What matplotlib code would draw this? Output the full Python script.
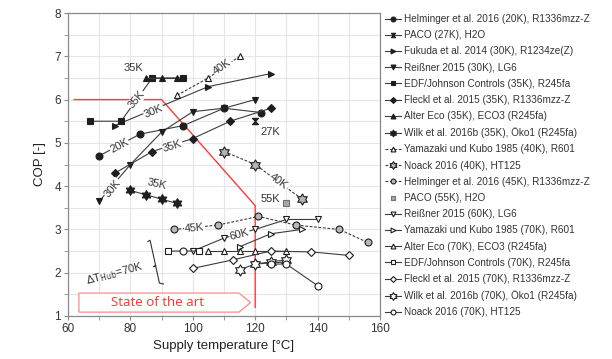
import numpy as np
import matplotlib
matplotlib.use('Agg')
import matplotlib.pyplot as plt
from matplotlib.path import Path
from matplotlib.patches import Polygon
from matplotlib.ticker import MultipleLocator

plt.rcParams['font.family'] = ['Liberation Sans', 'DejaVu Sans']

nan = np.nan
# ---------------- data ----------------
helm20_x = [70, 83, 97, 110, 122];           helm20_y = [4.7, 5.2, 5.4, 5.8, 5.7]
paco27_x = [120];                             paco27_y = [5.5]
fuku30_x = [75, 105, 125];                    fuku30_y = [5.4, 6.3, 6.6]
reis30_x = [70, 80, 90, 100, 110, 120];       reis30_y = [3.65, 4.5, 5.25, 5.72, 5.8, 6.0]
edf35_x = [67, 77, 87, 97];                   edf35_y = [5.5, 5.5, 6.5, 6.5]
fleckl35_x = [75, 87, 100, 112, 125];         fleckl35_y = [4.3, 4.8, 5.1, 5.5, 5.8]
alter35_x = [85, 90, 95];                     alter35_y = [6.5, 6.5, 6.5]
wilk35_x = [80, 85, 90, 95];                  wilk35_y = [3.9, 3.8, 3.7, 3.6]
yama40_x = [95, 105, 115];                    yama40_y = [6.1, 6.5, 7.0]
noack40_x = [110, 120, 135];                  noack40_y = [4.8, 4.5, 3.7]
helm45_x = [94, 108, 121, 133, 147, 156];     helm45_y = [3.0, 3.1, 3.3, 3.1, 3.0, 2.7]
paco55_x = [130];                             paco55_y = [3.6]
reis60_x = [100, 110, 120, 130, 140];         reis60_y = [2.5, 2.8, 3.0, 3.23, 3.23]
yama70_x = [115, 125, 135];                   yama70_y = [2.6, 2.9, 3.0]
alter70_x = [105, 110, 115, 120, 130];        alter70_y = [2.5, 2.5, 2.5, 2.5, 2.5]
edf70_x = [92, 102, nan, 120, 130];           edf70_y = [2.5, 2.5, nan, 2.2, 2.25]
fleckl70_x = [100, 113, 125, 138, 150];       fleckl70_y = [2.1, 2.3, 2.5, 2.48, 2.4]
wilk70_x = [115, 120, 125, 130];              wilk70_y = [2.07, 2.2, 2.25, 2.3]
noack70_x = [97, nan, 125, 130, 140];         noack70_y = [2.5, nan, 2.2, 2.2, 1.7]

state_x = [62, 90, 120, 120]
state_y = [6.0, 6.0, 3.55, 1.2]

labels = [
    ('35K', 81, 6.72, 0), ('35K', 82, 6.0, 50), ('30K', 87.5, 5.72, 23),
    ('20K', 76.5, 4.93, 28), ('35K', 93.5, 4.93, 17), ('30K', 74.3, 3.95, 50),
    ('35K', 88.5, 4.05, -12), ('27K', 124.8, 5.25, 0), ('40K', 109.5, 6.76, 35),
    ('40K', 127.5, 4.1, -36), ('55K', 124.8, 3.7, 0), ('45K', 100.5, 3.03, 5),
    ('60K', 115.0, 2.89, 15),
]

# --------------- markers ---------------
_ang = np.deg2rad(np.arange(12) * 30 + 90)
_rad = np.where(np.arange(12) % 2 == 0, 1.0, 1 / np.sqrt(3))
_verts = list(zip(_rad * np.cos(_ang), _rad * np.sin(_ang)))
hexagram = Path(_verts + [_verts[0]], [Path.MOVETO] + [Path.LINETO] * 11 + [Path.CLOSEPOLY])
hourglass = Path([(-1, 1), (1, 1), (-1, -1), (1, -1), (-1, 1)],
                 [Path.MOVETO, Path.LINETO, Path.LINETO, Path.LINETO, Path.CLOSEPOLY])

dk = '#1e1e1e'
ln = '#3c3c3c'
series = [
    (helm20_x, helm20_y, 'Helminger et al. 2016 (20K), R1336mzz-Z', dict(marker='o', mfc=dk, ls='-')),
    (paco27_x, paco27_y, 'PACO (27K), H2O', dict(marker=hourglass, mfc=dk, ls='-', ms=4.5)),
    (fuku30_x, fuku30_y, 'Fukuda et al. 2014 (30K), R1234ze(Z)', dict(marker='>', mfc=dk, ls='-')),
    (reis30_x, reis30_y, 'Reißner 2015 (30K), LG6', dict(marker='v', mfc=dk, ls='-')),
    (edf35_x, edf35_y, 'EDF/Johnson Controls (35K), R245fa', dict(marker='s', mfc=dk, ls='-')),
    (fleckl35_x, fleckl35_y, 'Fleckl et al. 2015 (35K), R1336mzz-Z', dict(marker='D', mfc=dk, ls='-', ms=4.3)),
    (alter35_x, alter35_y, 'Alter Eco (35K), ECO3 (R245fa)', dict(marker='^', mfc=dk, ls='-')),
    (wilk35_x, wilk35_y, 'Wilk et al. 2016b (35K), Öko1 (R245fa)', dict(marker=hexagram, mfc=dk, ls='-', ms=7)),
    (yama40_x, yama40_y, 'Yamazaki und Kubo 1985 (40K), R601', dict(marker='^', mfc='white', ls=(0, (2.5, 1.5)))),
    (noack40_x, noack40_y, 'Noack 2016 (40K), HT125', dict(marker=hexagram, mfc='#b4b4b4', ls=(0, (2.5, 1.5)), ms=8)),
    (helm45_x, helm45_y, 'Helminger et al. 2016 (45K), R1336mzz-Z', dict(marker='o', mfc='#b8b8b8', ls=(0, (2.5, 1.5)))),
    (paco55_x, paco55_y, 'PACO (55K), H2O', dict(marker='s', mfc='#a8a8a8', ls='none', mec='#707070')),
    (reis60_x, reis60_y, 'Reißner 2015 (60K), LG6', dict(marker='v', mfc='white', ls='-')),
    (yama70_x, yama70_y, 'Yamazaki und Kubo 1985 (70K), R601', dict(marker='>', mfc='white', ls='-')),
    (alter70_x, alter70_y, 'Alter Eco (70K), ECO3 (R245fa)', dict(marker='^', mfc='white', ls='-')),
    (edf70_x, edf70_y, 'EDF/Johnson Controls (70K), R245fa', dict(marker='s', mfc='white', ls='-')),
    (fleckl70_x, fleckl70_y, 'Fleckl et al. 2015 (70K), R1336mzz-Z', dict(marker='D', mfc='white', ls='-', ms=4.3)),
    (wilk70_x, wilk70_y, 'Wilk et al. 2016b (70K), Öko1 (R245fa)', dict(marker=hexagram, mfc='white', ls='-', ms=8)),
    (noack70_x, noack70_y, 'Noack 2016 (70K), HT125', dict(marker='o', mfc='white', ls='-')),
]

fig = plt.figure(figsize=(6.12, 3.59), dpi=100)
ax = fig.add_axes([68 / 612, 43 / 359, 312 / 612, 303 / 359])

ax.set_xlim(60, 160)
ax.set_ylim(1, 8)
ax.xaxis.set_major_locator(MultipleLocator(20))
ax.xaxis.set_minor_locator(MultipleLocator(10))
ax.yaxis.set_major_locator(MultipleLocator(1))
ax.yaxis.set_minor_locator(MultipleLocator(0.5))
ax.grid(True, which='both', color='#e6e6e6', lw=0.8, zorder=0)
ax.set_axisbelow(True)
for s in ax.spines.values():
    s.set_color('#8a8a8a')
    s.set_linewidth(0.9)
ax.tick_params(which='both', direction='out', length=3, color='#8a8a8a', labelsize=8.5,
               labelcolor='#333333', pad=2)

# red state-of-the-art line
ax.plot(state_x, state_y, color='#ff3a3a', lw=1.0, zorder=2)

handles = []
for x, y, lab, st in series:
    kw = dict(color=ln, lw=0.8, mec=dk, mew=0.8, ms=5, zorder=3)
    kw.update(st)
    h, = ax.plot(x, y, label=lab, **kw)
    handles.append(h)

for t, x, y, r in labels:
    ax.text(x, y, t, rotation=r, ha='center', va='center', fontsize=8, color='#333333',
            rotation_mode='anchor', zorder=4,
            bbox=dict(fc='white', ec='none', pad=0.4))

# Delta T bracket and label
brace_x = [85.6, 86.3, 88.1, 87.4, 88.1, 89.3, 90.6]
brace_y = [2.72, 2.75, 2.16, 2.14, 2.16, 1.76, 1.74]
ax.plot(brace_x, brace_y, color='#333333', lw=0.8, zorder=3)
ax.text(74.8, 1.97, r'$\Delta$T$_{\mathrm{Hub}}$=70K', rotation=15, ha='center', va='center',
        fontsize=8, color='#333333', rotation_mode='anchor')

# State of the art arrow box
box_x = [63.5, 63.5, 114.8, 118.5, 114.8]
box_y = [1.09, 1.53, 1.53, 1.31, 1.09]
ax.add_patch(Polygon(list(zip(box_x, box_y)), closed=True, fc='white', ec='#ff8a8a', lw=0.9, zorder=2))
ax.text(88.8, 1.31, 'State of the art', ha='center', va='center', fontsize=9.5, color='#ff3030',
        family=['Open Sans', 'DejaVu Sans'], zorder=3)

ax.set_xlabel('Supply temperature [°C]', fontsize=9.5, color='#222222', labelpad=4)
ax.set_ylabel('COP [-]', fontsize=9.5, color='#222222', labelpad=6)

fig.legend(handles=handles, loc='upper left', bbox_to_anchor=(385 / 612, 1 - 14 / 359),
           frameon=False, fontsize=7.2, handlelength=1.6, handletextpad=0.25,
           labelspacing=0.62, borderaxespad=0, borderpad=0, labelcolor='#333333',
           markerscale=0.7)

fig.savefig('out.png', dpi=100)
